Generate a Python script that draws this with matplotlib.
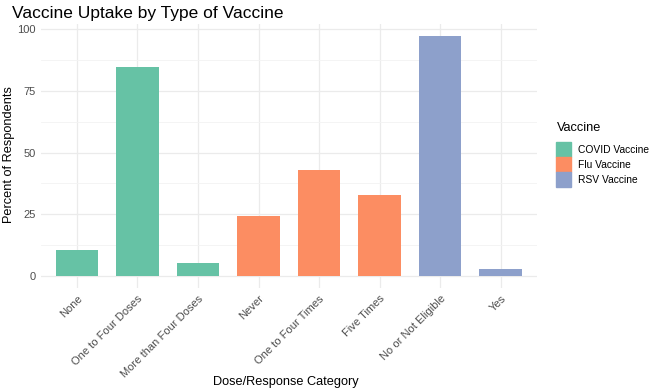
import matplotlib.pyplot as plt
import numpy as np
from matplotlib.patches import Patch

categories = ["None", "One to Four Doses", "More than Four Doses", "Never",
              "One to Four Times", "Five Times", "No or Not Eligible", "Yes"]
percents = [10.5, 84.6, 5.3, 24.3, 42.9, 32.8, 97.2, 2.8]
vaccine = ["COVID Vaccine", "COVID Vaccine", "COVID Vaccine", "Flu Vaccine",
           "Flu Vaccine", "Flu Vaccine", "RSV Vaccine", "RSV Vaccine"]
vaccine_types = ["COVID Vaccine", "Flu Vaccine", "RSV Vaccine"]
palette = {"COVID Vaccine": "#66C2A5", "Flu Vaccine": "#FC8D62", "RSV Vaccine": "#8DA0CB"}

plt.rcParams["font.family"] = ["Liberation Sans", "DejaVu Sans"]

fig = plt.figure(figsize=(6.5, 3.91), dpi=100)
ax = fig.add_axes([0.0625, 0.2634, 0.7635, 0.6752])

x = np.arange(len(categories))
colors = [palette[v] for v in vaccine]
ax.bar(x, percents, width=0.7, color=colors, zorder=3)

ax.set_xlim(-0.6, len(categories) - 0.4)
top = max(percents)
ax.set_ylim(-0.05 * top, top * 1.05)
ax.set_yticks([0, 25, 50, 75, 100])
ax.set_yticks([12.5, 37.5, 62.5, 87.5], minor=True)
ax.set_xticks(x)
ax.set_xticklabels(categories, rotation=45, ha="right", rotation_mode="anchor")

ax.grid(which="major", color="#EBEBEB", linewidth=0.9, zorder=0)
ax.grid(which="minor", axis="y", color="#F3F3F3", linewidth=0.6, zorder=0)
for s in ax.spines.values():
    s.set_visible(False)
ax.tick_params(axis="both", which="both", length=0, labelsize=8, labelcolor="#4D4D4D")
ax.tick_params(axis="x", pad=4)

# axis titles placed on the figure, like ggplot
fig.text(0.44, 0.023, "Dose/Response Category", fontsize=9.2, ha="center", va="center")
fig.text(0.014, 0.605, "Percent of Respondents", fontsize=9.2, rotation=90,
         ha="center", va="center")
fig.text(0.018, 0.965, "Vaccine Uptake by Type of Vaccine", fontsize=12.5, va="center")

handles = [Patch(color=palette[v]) for v in vaccine_types]
leg = fig.legend(handles, vaccine_types, title="Vaccine", loc="center left",
                 bbox_to_anchor=(0.845, 0.605), frameon=False, fontsize=7.4,
                 title_fontsize=9.2, handlelength=1.45, handleheight=1.85,
                 handletextpad=0.6, labelspacing=0.0, borderpad=0.2)
leg._legend_box.align = "left"
leg._legend_box.sep = 6

fig.savefig("out.png", dpi=100)
